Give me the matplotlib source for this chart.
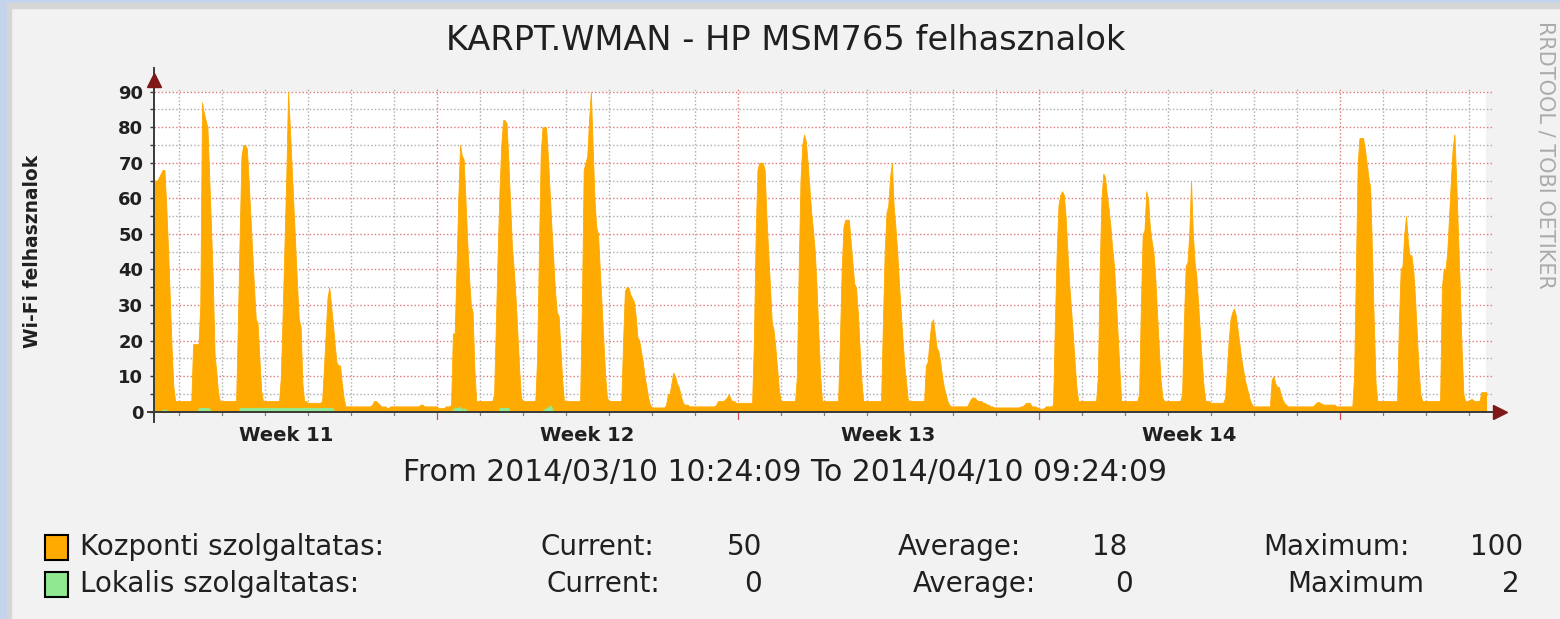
import matplotlib
matplotlib.use("Agg")
import matplotlib.pyplot as plt
import pandas as pd
from matplotlib.patches import Rectangle

W, H = 1560, 619

TITLE = "KARPT.WMAN - HP MSM765 felhasznalok"
Y_LABEL = "Wi-Fi felhasznalok"
START = "2014-03-10 10:24:09"
END = "2014-04-10 09:24:09"
FIRST_SAMPLE = "2014-03-10 10:00"

# Kozponti szolgaltatas, hourly samples (one row per day)
week11 = [
    65, 65, 65, 66, 67, 68, 68, 58, 46, 32, 18, 7, 3, 3,
    3, 3, 3, 3, 3, 3, 3, 3, 19, 19, 19, 19, 30, 87, 84, 82, 80, 66, 52, 37, 16, 11, 5, 3,
    3, 3, 3, 3, 3, 3, 3, 3, 3, 25, 50, 72, 75, 75, 74, 65, 55, 45, 35, 26, 25, 15, 6, 3,
    3, 3, 3, 3, 3, 3, 3, 3, 3, 10, 28, 47, 66, 90, 80, 69, 58, 47, 36, 26, 24, 8, 3, 3,
    2.5, 2.5, 2.5, 2.5, 2.5, 2.5, 2.5, 2.5, 3, 12, 22, 32, 35, 30, 25, 19, 14, 13, 13, 8, 4, 1.5, 1.5, 1.5,
    1.5, 1.5, 1.5, 1.5, 1.5, 1.5, 1.5, 1.5, 1.5, 1.5, 1.5, 1.5, 2, 3, 3, 2.5, 2, 1.5, 1.5, 1.5, 1.2, 1, 1.5, 1.5,
    1.5, 1.5, 1.5, 1.5, 1.5, 1.5, 1.5, 1.5, 1.5, 1.5, 1.5, 1.5, 1.5, 1.5, 1.5, 2, 2, 1.5, 1.5, 1.5, 1.5, 1.5, 1.5, 1.5,
]
week12 = [
    1.5, 1, 1, 1, 1, 1.5, 1.5, 1.5, 2, 22, 22, 40, 60, 75, 72, 71, 60, 48, 38, 30, 28, 12, 3, 3,
    3, 3, 3, 3, 3, 3, 3, 3, 5, 25, 45, 62, 75, 82, 82, 81, 70, 58, 46, 40, 32, 22, 12, 4,
    3, 3, 3, 3, 3, 3, 3, 3, 15, 45, 72, 80, 80, 80, 72, 62, 52, 43, 34, 28, 27, 18, 9, 3,
    3, 3, 3, 3, 3, 3, 3, 3, 3, 30, 68, 70, 72, 82, 90, 75, 60, 52, 50, 40, 30, 20, 10, 4,
    3, 3, 3, 3, 3, 3, 3, 3, 20, 34, 35, 35, 33, 32, 31, 27, 21, 20, 17, 14, 10, 7, 4, 2,
    1.2, 1.2, 1.2, 1.2, 1.2, 1.2, 1.2, 1.2, 2, 5, 5, 8, 11, 10, 8, 7, 5, 3, 2, 2, 2, 1.5, 1.5, 1.5,
    1.5, 1.5, 1.5, 1.5, 1.5, 1.5, 1.5, 1.5, 1.5, 1.5, 1.5, 1.5, 2, 3, 3, 3, 3, 3.5, 4, 5, 3.5, 3, 3, 2.5,
]
week13 = [
    2.5, 2.5, 2.5, 2.5, 2.5, 2.5, 2.5, 2.5, 2.5, 20, 50, 68, 70, 70, 70, 68, 55, 45, 35, 25, 23, 18, 12, 6,
    3, 3, 3, 3, 3, 3, 3, 3, 3, 10, 40, 65, 75, 78, 76, 70, 63, 56, 51, 45, 35, 22, 10, 3,
    3, 3, 3, 3, 3, 3, 3, 3, 3, 20, 40, 52, 54, 54, 54, 48, 42, 36, 35, 28, 18, 9, 3, 3,
    3, 3, 3, 3, 3, 3, 3, 3, 3, 25, 45, 56, 58, 66, 70, 58, 52, 45, 36, 28, 20, 13, 8, 3,
    3, 3, 3, 3, 3, 3, 3, 3, 3, 13, 14, 20, 25, 26, 22, 18, 17, 14, 10, 7, 5, 3, 2, 1.5,
    1.5, 1.5, 1.5, 1.5, 1.5, 1.5, 1.5, 1.5, 1.5, 2.5, 3.5, 4, 4, 3.5, 3, 3, 3, 2.5, 2.5, 2, 2, 1.5, 1.5, 1.2,
    1.2, 1.2, 1.2, 1.2, 1.2, 1.2, 1.2, 1.2, 1.2, 1.2, 1.2, 1.2, 1.2, 1.2, 1.5, 1.5, 2, 2.5, 2.5, 2.5, 1.5, 1.5, 1.5, 1.2,
]
week14 = [
    1, 0.8, 0.8, 1, 1.5, 1.5, 1.5, 1.5, 2, 25, 45, 58, 61, 62, 61, 55, 45, 36, 29, 22, 14, 7, 3, 3,
    3, 3, 3, 3, 3, 3, 3, 3, 3, 10, 40, 60, 67, 66, 61, 57, 52, 46, 41, 32, 22, 12, 3, 3,
    3, 3, 3, 3, 3, 3, 3, 3, 5, 30, 50, 51, 62, 60, 52, 48, 45, 38, 28, 18, 9, 4, 3, 3,
    3, 3, 3, 3, 3, 3, 3, 3, 5, 25, 41, 42, 50, 65, 50, 42, 38, 30, 22, 14, 7, 3, 3, 3,
    2.5, 2.5, 2.5, 2.5, 2.5, 2.5, 2.5, 2.5, 4, 12, 20, 26, 28, 29, 27, 23, 19, 15, 12, 9, 7, 5, 3, 2,
    1.5, 1.5, 1.5, 1.5, 1.5, 1.5, 1.5, 1.5, 1.5, 1.5, 9, 10, 8, 7, 7, 5, 3.5, 2.5, 2, 1.5, 1.5, 1.5, 1.5, 1.5,
    1.5, 1.5, 1.5, 1.5, 1.5, 1.5, 1.5, 1.5, 1.5, 1.5, 2, 2.5, 2.8, 2.5, 2.2, 2, 2, 2, 2, 2, 2, 2, 1.5, 1.5,
]
week15 = [
    1.5, 1.5, 1.5, 1.5, 1.5, 1.5, 1.5, 1.5, 10, 40, 70, 77, 77, 77, 74, 70, 66, 63, 45, 25, 8, 3, 3, 3,
    3, 3, 3, 3, 3, 3, 3, 3, 3, 25, 40, 41, 50, 55, 48, 44, 44, 40, 32, 22, 12, 5, 3, 3,
    3, 3, 3, 3, 3, 3, 3, 3, 3, 35, 40, 40, 45, 55, 65, 74, 78, 65, 50, 35, 18, 5, 3, 3,
    3, 3.5, 3.5, 3, 3, 3, 3, 5.5, 5.5, 5.5, 5.5,
]

# Lokalis szolgaltatas, small blobs only (zero elsewhere)
lokalis_time = [
    "2014-03-10 14:00", "2014-03-10 15:00", "2014-03-10 17:00", "2014-03-10 18:00",
    "2014-03-11 10:00", "2014-03-11 11:00", "2014-03-11 17:00", "2014-03-11 18:00",
    "2014-03-12 09:00", "2014-03-12 10:00", "2014-03-14 14:00", "2014-03-14 15:00",
    "2014-03-17 08:00", "2014-03-17 09:00", "2014-03-17 13:00", "2014-03-17 14:00",
    "2014-03-17 16:00", "2014-03-17 17:00",
    "2014-03-18 10:00", "2014-03-18 11:00", "2014-03-18 16:00", "2014-03-18 17:00",
    "2014-03-19 10:00", "2014-03-19 11:00", "2014-03-19 16:00", "2014-03-19 17:00",
]
lokalis_users = [0, 0.7, 0.7, 0, 0, 1.2, 1.2, 0, 0, 1.2, 1.2, 0,
                 0, 1, 1.4, 1, 1, 0, 0, 1.2, 1.2, 0, 0, 0.5, 2, 0]

week_labels = ["Week 11", "Week 12", "Week 13", "Week 14"]
week_label_at = ["2014-03-13 12:00", "2014-03-20 12:00", "2014-03-27 12:00", "2014-04-03 12:00"]

legend_names = ["Kozponti szolgaltatas:", "Lokalis szolgaltatas:"]
legend_colors = ["#FFAA00", "#90E890"]
current = ["50", "0"]
average = ["18", "0"]
maximum = ["100", "2"]
max_label = ["Maximum:", "Maximum"]

ORANGE, GREEN = legend_colors
RED_GRID = "#E07878"
GRAY_GRID = "#ACACAC"
AXIS = "#3A3A3A"
ARROW = "#801818"


def fx(px):
    return px / W


def fy(py):
    return 1 - py / H


kozponti = week11 + week12 + week13 + week14 + week15
times = pd.date_range(FIRST_SAMPLE, periods=len(kozponti), freq="h")
lok_t = pd.to_datetime(lokalis_time)

fig = plt.figure(figsize=(W / 100, H / 100), dpi=100, facecolor="#F2F2F2")

# window-ish border on the left/top
fig.patches.append(Rectangle((0, 0), fx(7), 1, transform=fig.transFigure, color="#C4D4EC", zorder=0))
fig.patches.append(Rectangle((0, fy(3.5)), 1, 3.5 / H, transform=fig.transFigure, color="#C4D4EC", zorder=0))
fig.patches.append(Rectangle((fx(7), 0), fx(4), fy(3.5), transform=fig.transFigure, color="#D6D6D6", zorder=0))
fig.patches.append(Rectangle((fx(7), fy(7.5)), 1, 4 / H, transform=fig.transFigure, color="#D6D6D6", zorder=0))

x0, x1, y0, y1 = 154.4, 1485.6, 91.7, 411.7
ax = fig.add_axes([fx(x0), fy(y1), (x1 - x0) / W, (y1 - y0) / H])
ax.set_facecolor("white")
xw, yh = x1 - x0, y1 - y0

t0, t1 = pd.Timestamp(START), pd.Timestamp(END)
ax.set_xlim(t0, t1)
ax.set_ylim(0, 90)

# grid
dots = (0, (1, 1.6))
for v in range(5, 91, 5):
    ax.axhline(v, xmax=1 + 7 / xw, color=RED_GRID if v % 10 == 0 else GRAY_GRID,
               lw=1.0, ls=dots, zorder=0.5, clip_on=False)
days = pd.date_range("2014-03-11", "2014-04-10", freq="D")
for d in days:
    monday = d.dayofweek == 0
    ax.axvline(d, ymax=1 + 4 / yh, color=RED_GRID if monday else GRAY_GRID,
               lw=1.0, ls=dots, zorder=0.5, clip_on=False)
    ax.axvline(d, ymin=-(7 if monday else 3) / yh, ymax=0,
               color="#D85050" if monday else "#808080", lw=0.9, clip_on=False)

ax.fill_between(times, kozponti, color=ORANGE, lw=0.6, edgecolor=ORANGE, zorder=2)
ax.fill_between(lok_t, lokalis_users, color=GREEN, lw=0, zorder=3)

for s in ax.spines.values():
    s.set_visible(False)
ax.plot([0, 0], [-10 / yh, 1 + 24 / yh], color=AXIS, lw=1.4, transform=ax.transAxes,
        clip_on=False, zorder=4)
ax.plot([-6 / xw, 1 + 8 / xw], [0, 0], color=AXIS, lw=1.4, transform=ax.transAxes,
        clip_on=False, zorder=4)
ax.plot([0], [1 + 11.5 / yh], marker="^", ms=9.5, color=ARROW, transform=ax.transAxes,
        clip_on=False, zorder=5)
ax.plot([1 + 14 / xw], [0], marker=">", ms=9.5, color=ARROW, transform=ax.transAxes,
        clip_on=False, zorder=5)

ax.set_yticks(range(0, 91, 10))
ax.set_yticks(range(5, 90, 10), minor=True)
ax.tick_params(axis="y", which="both", length=3, width=1, color=AXIS, pad=5)
ax.set_xticks(pd.to_datetime(week_label_at), week_labels)
ax.set_xticks([], minor=True)
ax.tick_params(axis="x", length=0, pad=10)
for lab in ax.get_yticklabels():
    lab.set_fontsize(13)
    lab.set_fontweight("bold")
    lab.set_color("#202020")
for lab in ax.get_xticklabels():
    lab.set_fontsize(14)
    lab.set_fontweight("bold")
    lab.set_color("#202020")

fig.text(fx(33), fy(251), Y_LABEL, rotation=90, ha="center", va="center",
         fontsize=13.4, fontweight="bold", color="#202020")
fig.text(fx(786), fy(40), TITLE, ha="center", va="center", fontsize=24.2, color="#202020")
fig.text(fx(785), fy(472), f"From {t0:%Y/%m/%d %H:%M:%S} To {t1:%Y/%m/%d %H:%M:%S}",
         ha="center", va="center", fontsize=21.4, color="#202020")
fig.text(fx(1545), fy(155), "RRDTOOL / TOBI OETIKER", rotation=270, ha="center", va="center",
         fontsize=15, color="#ABABAB")

rows_y = [547, 584]
cur_x, avg_x, max_x = [540, 547], [898, 913], [1263, 1287]
cur_r, avg_r, max_r = [762, 762], [1127, 1133], [1523, 1520]
for i, name in enumerate(legend_names):
    yy = rows_y[i]
    fig.patches.append(Rectangle((fx(45), fy(yy + 12.5)), 23 / W, 25 / H, transform=fig.transFigure,
                                 facecolor=legend_colors[i], edgecolor="black", lw=1.5))
    kw = dict(va="center", fontsize=20, color="#202020")
    fig.text(fx(80), fy(yy), name, ha="left", **kw)
    fig.text(fx(cur_x[i]), fy(yy), "Current:", ha="left", **kw)
    fig.text(fx(cur_r[i]), fy(yy), current[i], ha="right", **kw)
    fig.text(fx(avg_x[i]), fy(yy), "Average:", ha="left", **kw)
    fig.text(fx(avg_r[i]), fy(yy), average[i], ha="right", **kw)
    fig.text(fx(max_x[i]), fy(yy), max_label[i], ha="left", **kw)
    fig.text(fx(max_r[i]), fy(yy), maximum[i], ha="right", **kw)

fig.savefig("out.png", dpi=100, facecolor=fig.get_facecolor())
